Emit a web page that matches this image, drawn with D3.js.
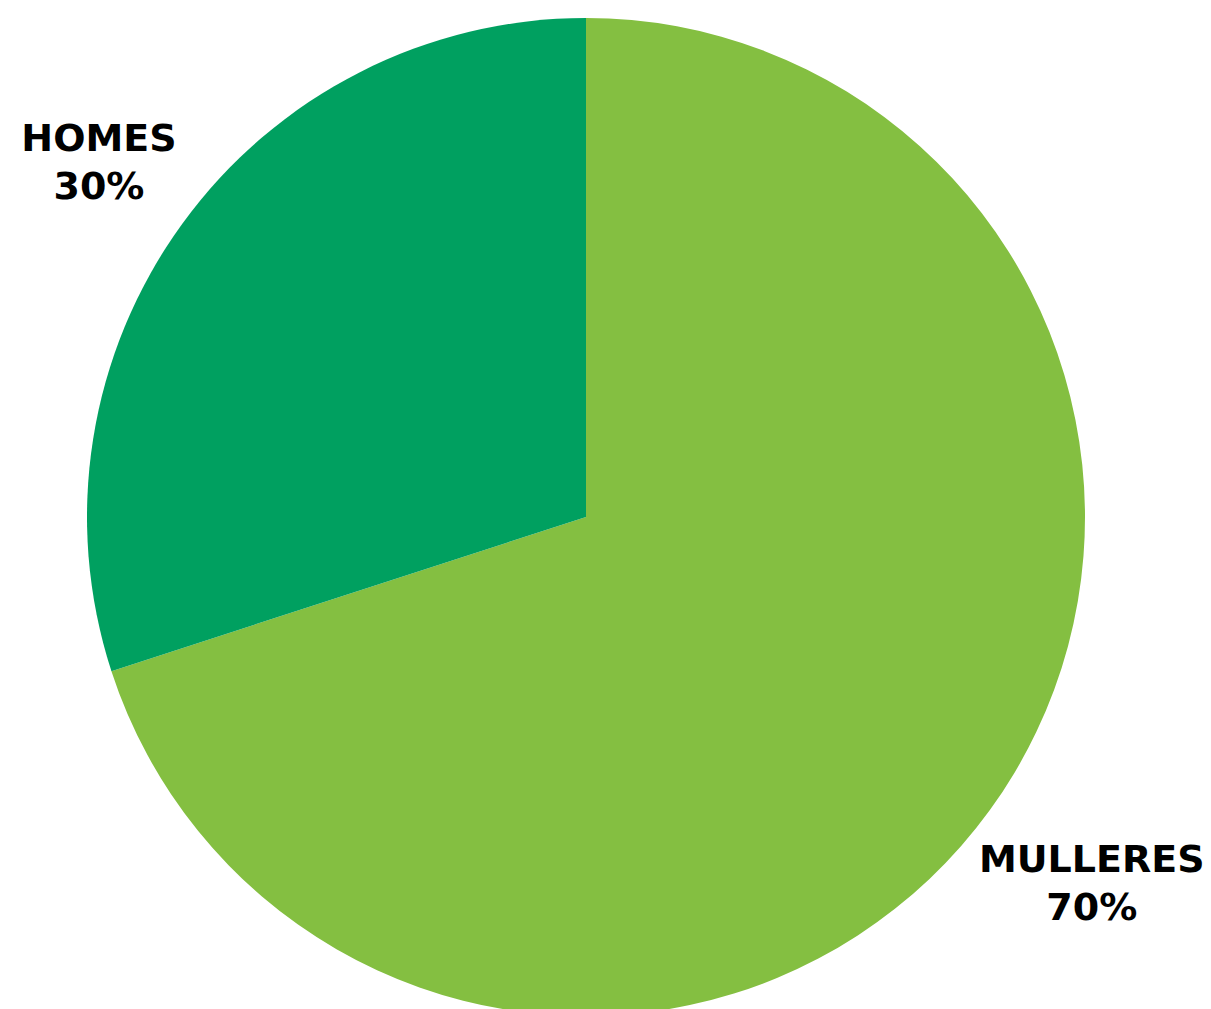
<!DOCTYPE html>
<html>
<head>
<meta charset="utf-8">
<script src="https://cdn.jsdelivr.net/npm/d3@7"></script>
<style>
  body { margin: 0; background: #fff; }
</style>
</head>
<body>
<div class="chart"></div>
<script>
var width = 1211,
    height = 1009;

var labels = ["MULLERES", "HOMES"];
var values = [70, 30];
var colors = ["#84bf41", "#00a060"];

var svg = d3.select(".chart").append("svg")
    .attr("width", width)
    .attr("height", height);

var radius = 499;

const pieG = svg.append("g")
    .attr("transform", `translate(586, 517)`);

var pie = d3.pie().sort(null).value(d => d.value);
var arc = d3.arc().innerRadius(0).outerRadius(radius);

var data = labels.map((l, i) => ({ label: l, value: values[i], color: colors[i] }));
var arcs = pie(data);

pieG.selectAll("path")
    .data(arcs)
    .enter()
    .append("path")
    .attr("d", arc)
    .style("fill", d => d.data.color);

// labels outside the pie, pushed out a bit more for wider text
var lbl = pieG.selectAll("text.lbl")
    .data(arcs)
    .enter()
    .append("text")
    .attr("class", "lbl")
    .attr("text-anchor", "middle")
    .style("font-family", "DejaVu Sans")
    .style("font-weight", "bold")
    .style("font-size", "38px")
    .style("fill", "#000");

lbl.append("tspan")
    .attr("x", 0)
    .attr("y", -12)
    .text(d => d.data.label);

lbl.append("tspan")
    .attr("x", 0)
    .attr("y", 36)
    .text(d => d.data.value + "%");

lbl.attr("transform", function (d) {
    var w = this.getBBox().width / 2;
    var r = 551 + 0.657 * w;
    var a = (d.startAngle + d.endAngle) / 2;
    return `translate(${r * Math.sin(a)}, ${-r * Math.cos(a)})`;
});
</script>
</body>
</html>
